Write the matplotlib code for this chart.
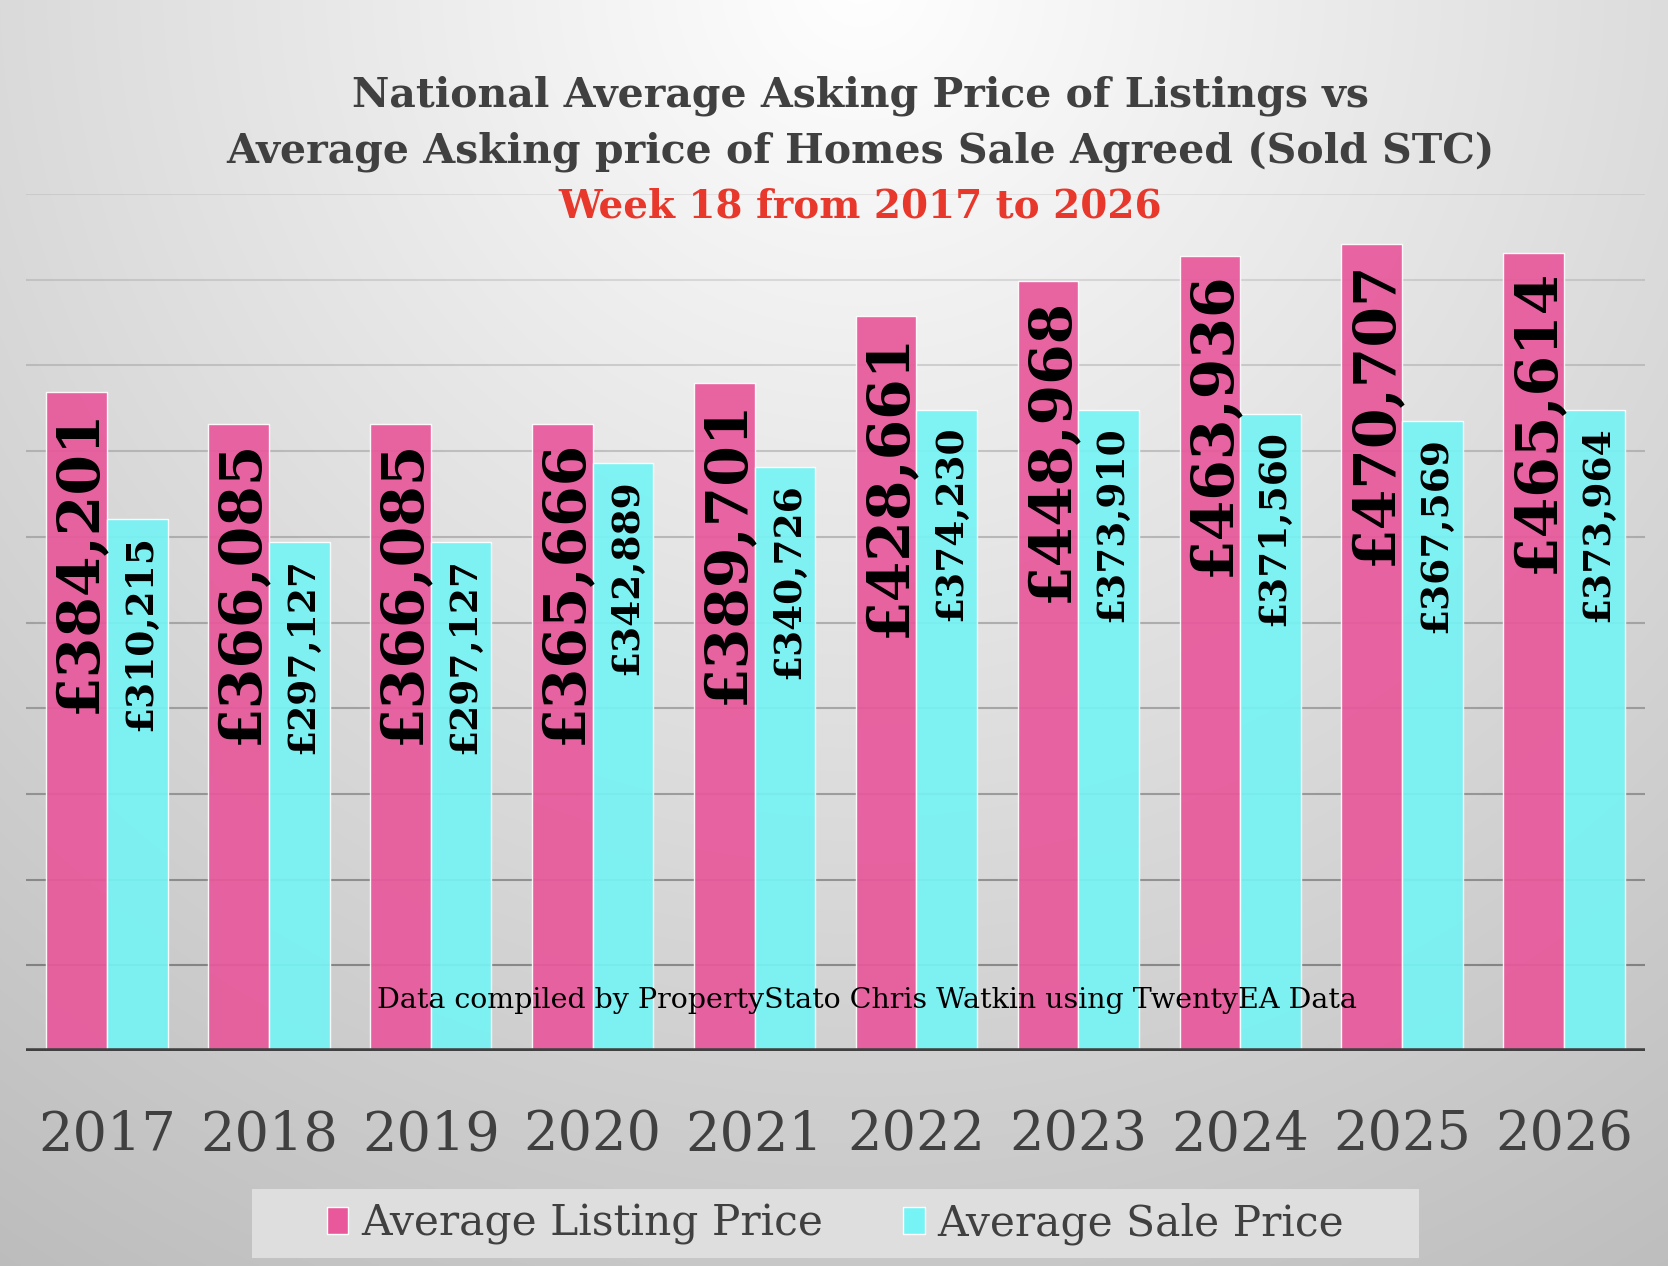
import numpy as np
import matplotlib
matplotlib.use("Agg")
from matplotlib import pyplot as plt
from matplotlib.patches import Patch, Rectangle

# data (week 18 each year)
years = ["2017", "2018", "2019", "2020", "2021", "2022", "2023", "2024", "2025", "2026"]
listing_price = [384201, 366085, 366085, 365666, 389701, 428661, 448968, 463936, 470707, 465614]
sale_price = [310215, 297127, 297127, 342889, 340726, 374230, 373910, 371560, 367569, 373964]

PINK = "#E8589B"
CYAN = "#76F3F5"
DARK = "#404040"
RED = "#E8372B"
SERIF = ["DejaVu Serif"]

W, H, DPI = 1668, 1266, 100
fig = plt.figure(figsize=(W / DPI, H / DPI), dpi=DPI)

# radial grey background, white at top centre
bg = fig.add_axes([0, 0, 1, 1], zorder=-10)
yy, xx = np.mgrid[0:H, 0:W]
d = np.hypot(xx - 860, yy + 20)
v = np.clip(255 - 0.043 * d, 0, 255) / 255.0
bg.imshow(np.dstack([v, v, v]), extent=[0, 1, 0, 1], aspect="auto", interpolation="bilinear")
bg.set_axis_off()

ax = fig.add_axes([26 / W, 1 - 1051 / H, (1645 - 26) / W, (1051 - 194) / H])
ax.set_facecolor("none")
x = np.arange(len(years))
bw = 0.375
ax.bar(x - bw / 2, listing_price, bw, color=PINK, alpha=0.92, edgecolor=(1, 1, 1, 0.7), linewidth=1, zorder=2)
ax.bar(x + bw / 2, sale_price, bw, color=CYAN, alpha=0.92, edgecolor=(1, 1, 1, 0.7), linewidth=1, zorder=2)
ax.set_xlim(-0.5, len(years) - 0.5)
ax.set_ylim(0, 500000)

# gridlines get darker toward the bottom
levels = np.arange(50000, 500001, 50000)
for lv in levels:
    a = 0.07 + (500000 - lv) / 450000 * 0.28
    ax.axhline(lv, color="black", alpha=a, lw=1.5, zorder=1)
ax.axhline(0, color=DARK, lw=4, zorder=3)

for s in ax.spines.values():
    s.set_visible(False)
ax.set_xticks([])
ax.set_yticks([])

# value labels, vertical inside the bar tops
for xi, val in zip(x - bw / 2, listing_price):
    ax.annotate("£{:,}".format(val), (xi, val), xytext=(19, -16), textcoords="offset pixels",
                rotation=90, rotation_mode="anchor", ha="right", va="baseline",
                fontsize=42, fontweight="bold", family=SERIF, color="black", zorder=4)
for xi, val in zip(x + bw / 2, sale_price):
    ax.annotate("£{:,}".format(val), (xi, val), xytext=(14, -16), textcoords="offset pixels",
                rotation=90, rotation_mode="anchor", ha="right", va="baseline",
                fontsize=27, fontweight="bold", family=SERIF, color="black", zorder=4)

# year labels under the axis
for xi, yr in zip(x, years):
    ax.text(xi, -(1150 - 1051) / (1051 - 194), yr, transform=ax.get_xaxis_transform(),
            ha="center", va="baseline", fontsize=39, family=SERIF, color=DARK)

# titles
fig.text(0.5156, 1 - 107 / H, "National Average Asking Price of Listings vs", ha="center", va="baseline",
         fontsize=29.5, fontweight="bold", family=SERIF, color=DARK)
fig.text(0.5156, 1 - 163 / H, "Average Asking price of Homes Sale Agreed (Sold STC)", ha="center", va="baseline",
         fontsize=29.5, fontweight="bold", family=SERIF, color=DARK)
fig.text(0.5156, 1 - 218 / H, "Week 18 from 2017 to 2026", ha="center", va="baseline",
         fontsize=28, fontweight="bold", family=SERIF, color=RED)

fig.text(867 / W, 1 - 1008 / H, "Data compiled by PropertyStato Chris Watkin using TwentyEA Data",
         ha="center", va="baseline", fontsize=20.5, family=SERIF, color="black")

# legend on a light box
fig.patches.append(Rectangle((252 / W, 1 - 1258 / H), (1419 - 252) / W, 69 / H,
                             transform=fig.transFigure, facecolor="#dedede", edgecolor="none", zorder=0))
handles = [Patch(facecolor=PINK, edgecolor="white", linewidth=1),
           Patch(facecolor=CYAN, edgecolor="white", linewidth=1)]
fig.legend(handles, ["Average Listing Price", "Average Sale Price"], loc="center",
           bbox_to_anchor=(835.5 / W, 1 - 1223.5 / H), ncol=2, frameon=False,
           prop={"family": SERIF, "size": 30.5}, labelcolor=DARK,
           handlelength=0.5, handleheight=0.6, handletextpad=0.3, columnspacing=1.9)

fig.savefig("out.png", dpi=DPI)
